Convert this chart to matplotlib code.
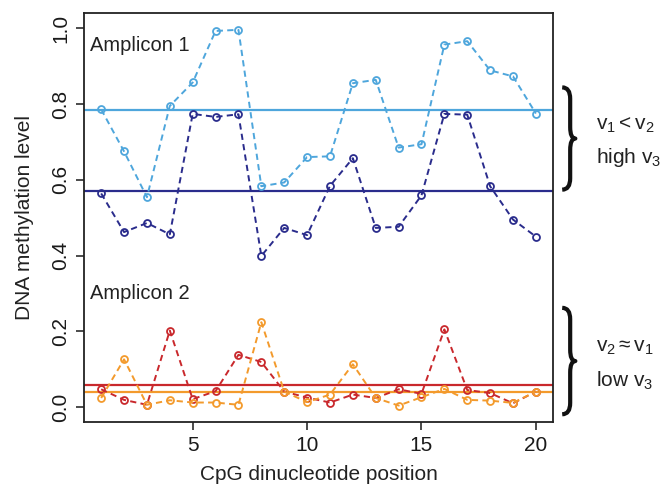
import numpy as np
import matplotlib
matplotlib.use("Agg")
from matplotlib import pyplot as plt
from matplotlib.path import Path
from matplotlib.patches import PathPatch
from matplotlib import transforms

plt.rcParams['font.family'] = ['Liberation Sans', 'DejaVu Sans']
plt.rcParams['mathtext.fontset'] = 'custom'
plt.rcParams['mathtext.rm'] = 'Liberation Sans'
plt.rcParams['mathtext.it'] = 'Liberation Sans'

# CpG positions
pos = np.arange(1, 21)

# amplicon 1 (two samples)
amp1_light = [0.786, 0.675, 0.554, 0.795, 0.857, 0.993, 0.996, 0.583, 0.593, 0.660,
              0.662, 0.855, 0.864, 0.685, 0.694, 0.957, 0.966, 0.889, 0.873, 0.775]
amp1_dark = [0.564, 0.462, 0.486, 0.456, 0.774, 0.766, 0.773, 0.399, 0.473, 0.454,
             0.584, 0.657, 0.473, 0.476, 0.559, 0.774, 0.772, 0.583, 0.495, 0.450]

# amplicon 2 (two samples)
amp2_red = [0.047, 0.019, 0.006, 0.202, 0.021, 0.042, 0.138, 0.119, 0.041, 0.025,
            0.012, 0.033, 0.024, 0.047, 0.035, 0.205, 0.045, 0.037, 0.010, 0.041]
amp2_orange = [0.024, 0.126, 0.006, 0.018, 0.012, 0.012, 0.006, 0.224, 0.041, 0.013,
               0.033, 0.113, 0.024, 0.004, 0.026, 0.048, 0.019, 0.017, 0.011, 0.041]

series = [
    (amp1_light, '#4ea6dc'),
    (amp1_dark, '#2a2c8c'),
    (amp2_red, '#c9282c'),
    (amp2_orange, '#f39a2c'),
]

fig = plt.figure(figsize=(6.65, 4.87), dpi=100)
ax = fig.add_axes([0.126, 0.133, 0.706, 0.840])

for vals, col in series:
    ax.plot(pos, vals, color=col, linestyle=(0, (3.2, 2.2)), linewidth=1.4,
            marker='o', markersize=5, markerfacecolor='none',
            markeredgewidth=1.3, zorder=3)
    # mean line
    ax.axhline(np.mean(vals), color=col, linewidth=1.6, zorder=2)

ax.set_xlim(0.24, 20.76)
ax.set_ylim(-0.04, 1.04)
ax.set_xticks([5, 10, 15, 20])
ax.set_yticks([0.0, 0.2, 0.4, 0.6, 0.8, 1.0])
ax.set_yticklabels(['0.0', '0.2', '0.4', '0.6', '0.8', '1.0'], rotation=90, va='center')
ax.tick_params(direction='out', length=6, width=1.1, labelsize=15, colors='#1a1a1a', pad=4)
for s in ax.spines.values():
    s.set_linewidth(1.3)
    s.set_color('#222222')

ax.set_xlabel('CpG dinucleotide position', fontsize=15, color='#222222', labelpad=7)
ax.set_ylabel('DNA methylation level', fontsize=15, color='#222222', labelpad=12)

ax.text(0.5, 0.955, 'Amplicon 1', fontsize=14.5, color='#222222', va='center', ha='left')
ax.text(0.5, 0.30, 'Amplicon 2', fontsize=14.5, color='#222222', va='center', ha='left')

# curly braces on the right, x in axes coords, y in data coords
trans = transforms.blended_transform_factory(ax.transAxes, ax.transData)


def brace(y_top, y_bot, x_hook=1.019, x_spine=1.036, x_tip=1.047):
    ym = (y_top + y_bot) / 2
    r = 0.03
    verts = [
        (x_hook, y_top),
        (x_spine, y_top), (x_spine, y_top - r),
        (x_spine, ym + r),
        (x_spine, ym), (x_tip, ym),
        (x_spine, ym), (x_spine, ym - r),
        (x_spine, y_bot + r),
        (x_spine, y_bot), (x_hook, y_bot),
    ]
    codes = [Path.MOVETO, Path.CURVE3, Path.CURVE3, Path.LINETO,
             Path.CURVE3, Path.CURVE3, Path.CURVE3, Path.CURVE3,
             Path.LINETO, Path.CURVE3, Path.CURVE3]
    patch = PathPatch(Path(verts, codes), transform=trans, facecolor='none',
                      edgecolor='#111111', linewidth=3.0, clip_on=False,
                      capstyle='butt', joinstyle='round')
    ax.add_patch(patch)


brace(0.844, 0.574)
brace(0.262, -0.019)

ax.text(1.090, 0.743, r'$\mathregular{v_1 < v_2}$', transform=trans, fontsize=15,
        color='#222222', va='center', ha='left')
ax.text(1.090, 0.659, r'high $\mathregular{v_3}$', transform=trans, fontsize=15,
        color='#222222', va='center', ha='left')
ax.text(1.090, 0.156, r'$\mathregular{v_2 \approx v_1}$', transform=trans, fontsize=15,
        color='#222222', va='center', ha='left')
ax.text(1.090, 0.069, r'low $\mathregular{v_3}$', transform=trans, fontsize=15,
        color='#222222', va='center', ha='left')

fig.savefig('out.png', dpi=100)
